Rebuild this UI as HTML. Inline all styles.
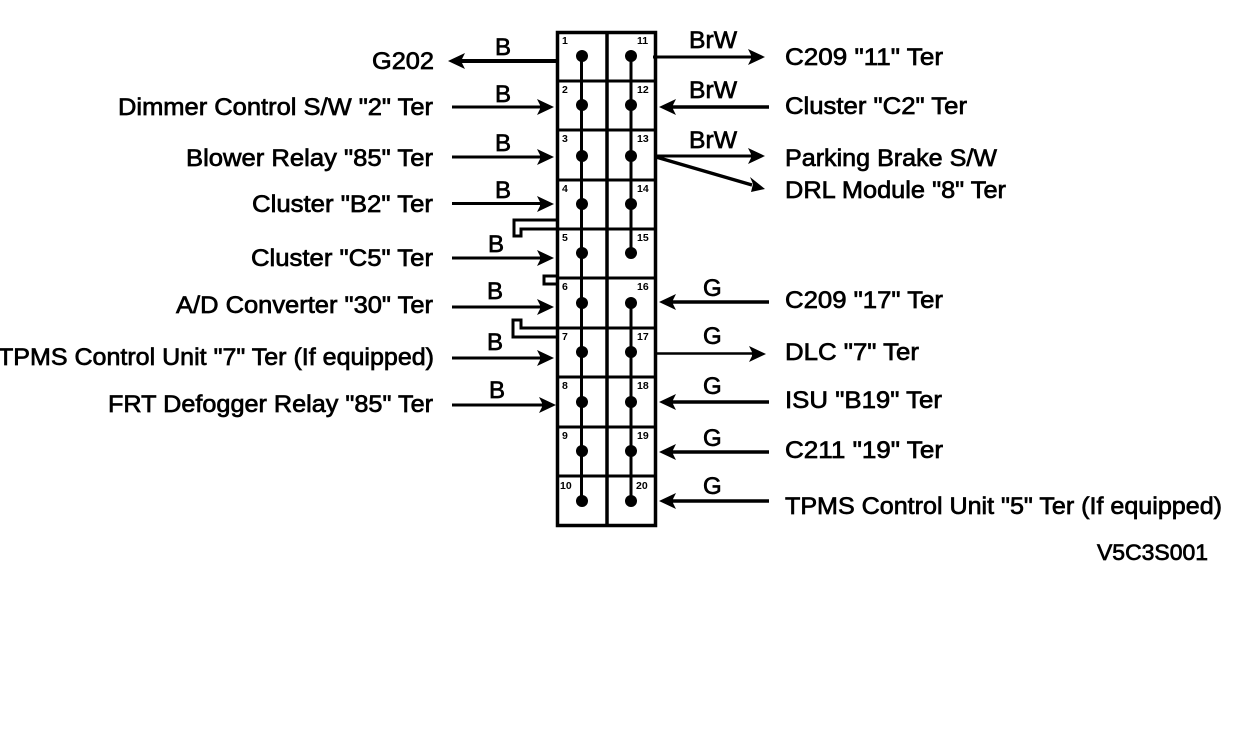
<!DOCTYPE html>
<html>
<head>
<meta charset="utf-8">
<style>
html,body{margin:0;padding:0;background:#fff;width:1248px;height:746px;overflow:hidden}
svg{display:block}
text{font-family:"Liberation Sans",sans-serif;fill:#000;stroke:#000;stroke-width:.7px}
.l{font-size:24px}
.n{font-size:10.5px;font-weight:bold;stroke:none}
</style>
</head>
<body>
<svg width="1248" height="746" viewBox="0 0 1248 746" xmlns="http://www.w3.org/2000/svg">
<rect width="1248" height="746" fill="#fff"/>
<defs>
<polygon id="hr" points="0,0 -17,-8 -14,-2 -14,2 -17,8"/>
<polygon id="hl" points="0,0 17,-8 14,-2 14,2 17,8"/>
</defs>

<!-- Box -->
<g stroke="#000" fill="none">
<rect x="557.5" y="32.5" width="98" height="493" stroke-width="3.5"/>
<path d="M607 32V526" stroke-width="3.5"/>
<path d="M557 81H656M557 130H656M557 180H656M557 229H656M557 278H656M557 328H656M557 377H656M557 427H656M557 476H656" stroke-width="3"/>
<path d="M581.5 56V501M631 56V253M631 303V501" stroke-width="3"/>
<!-- jumpers -->
<path d="M557 220H514V236H521V229H557" stroke-width="3"/>
<path d="M557 276H544V284H557" stroke-width="3"/>
<path d="M557 328H521V320H513V337H557" stroke-width="3"/>
</g>

<!-- Dots -->
<g fill="#000">
<circle cx="582" cy="56" r="6"/><circle cx="582" cy="105" r="6"/><circle cx="582" cy="156" r="6"/><circle cx="582" cy="204" r="6"/><circle cx="582" cy="253" r="6"/><circle cx="582" cy="303" r="6"/><circle cx="582" cy="352" r="6"/><circle cx="582" cy="402" r="6"/><circle cx="582" cy="451" r="6"/><circle cx="582" cy="501" r="6"/>
<circle cx="631" cy="56" r="6"/><circle cx="631" cy="105" r="6"/><circle cx="631" cy="156" r="6"/><circle cx="631" cy="204" r="6"/><circle cx="631" cy="253" r="6"/><circle cx="631" cy="303" r="6"/><circle cx="631" cy="352" r="6"/><circle cx="631" cy="402" r="6"/><circle cx="631" cy="451" r="6"/><circle cx="631" cy="501" r="6"/>
</g>

<!-- Pin numbers -->
<g class="n">
<text class="n" x="562" y="44">1</text><text class="n" x="562" y="93">2</text><text class="n" x="562" y="142">3</text><text class="n" x="562" y="192">4</text><text class="n" x="562" y="241">5</text><text class="n" x="562" y="290">6</text><text class="n" x="562" y="340">7</text><text class="n" x="562" y="389">8</text><text class="n" x="562" y="439">9</text><text class="n" x="560" y="489">10</text>
<text class="n" x="637" y="44">11</text><text class="n" x="637" y="93">12</text><text class="n" x="637" y="142">13</text><text class="n" x="637" y="192">14</text><text class="n" x="637" y="241">15</text><text class="n" x="637" y="290">16</text><text class="n" x="637" y="340">17</text><text class="n" x="637" y="389">18</text><text class="n" x="637" y="439">19</text><text class="n" x="636" y="489">20</text>
</g>

<!-- Left connectors -->
<g stroke="#000" fill="none">
<path d="M460 61H556" stroke-width="4"/>
<path d="M452 107H544M452 157H544M452 203.500H544M452 258H544M452 307H544M452 358H544M452 405H546" stroke-width="3"/>
</g>
<use href="#hl" x="448" y="61"/>
<use href="#hr" x="554" y="107"/><use href="#hr" x="554" y="157"/><use href="#hr" x="554" y="204"/><use href="#hr" x="554" y="258"/><use href="#hr" x="554" y="307"/><use href="#hr" x="554" y="358"/><use href="#hr" x="556" y="405"/>

<!-- Right connectors -->
<g stroke="#000" fill="none">
<path d="M653 57H755M656 156H755" stroke-width="3"/>
<path d="M669 107H769M669 302H769M669 402H769M669 452H769M669 501H769" stroke-width="3.500"/>
<path d="M656 353.500H755" stroke-width="2.500"/>
<path d="M656 157L752 185" stroke-width="3.500"/>
</g>
<use href="#hr" x="765" y="57"/><use href="#hr" x="765" y="156"/><use href="#hr" x="766" y="354"/>
<polygon points="765,189 750,177 753,184 751,192"/>
<use href="#hl" x="659" y="107"/><use href="#hl" x="659" y="302"/><use href="#hl" x="659" y="402"/><use href="#hl" x="659" y="452"/><use href="#hl" x="659" y="501"/>

<!-- Left labels -->
<g class="l" text-anchor="end">
<text class="l" x="434" y="69" textLength="62" lengthAdjust="spacingAndGlyphs">G202</text>
<text class="l" x="433" y="115" textLength="315" lengthAdjust="spacingAndGlyphs">Dimmer Control S/W "2" Ter</text>
<text class="l" x="433" y="166" textLength="247" lengthAdjust="spacingAndGlyphs">Blower Relay "85" Ter</text>
<text class="l" x="433" y="212" textLength="181" lengthAdjust="spacingAndGlyphs">Cluster "B2" Ter</text>
<text class="l" x="433" y="266" textLength="182" lengthAdjust="spacingAndGlyphs">Cluster "C5" Ter</text>
<text class="l" x="433" y="313" textLength="257" lengthAdjust="spacingAndGlyphs">A/D Converter "30" Ter</text>
<text class="l" x="434" y="365" textLength="436" lengthAdjust="spacingAndGlyphs">TPMS Control Unit "7" Ter (If equipped)</text>
<text class="l" x="433" y="412" textLength="325" lengthAdjust="spacingAndGlyphs">FRT Defogger Relay "85" Ter</text>
</g>

<!-- Wire colors -->
<g class="l">
<text class="l" x="495" y="55">B</text>
<text class="l" x="495" y="102">B</text>
<text class="l" x="495" y="151">B</text>
<text class="l" x="495" y="198">B</text>
<text class="l" x="488" y="252">B</text>
<text class="l" x="487" y="299">B</text>
<text class="l" x="487" y="350">B</text>
<text class="l" x="489" y="398">B</text>
<text class="l" x="689" y="48" textLength="48" lengthAdjust="spacingAndGlyphs">BrW</text>
<text class="l" x="689" y="98" textLength="48" lengthAdjust="spacingAndGlyphs">BrW</text>
<text class="l" x="689" y="148" textLength="48" lengthAdjust="spacingAndGlyphs">BrW</text>
<text class="l" x="703" y="296">G</text>
<text class="l" x="703" y="344">G</text>
<text class="l" x="703" y="394">G</text>
<text class="l" x="703" y="446">G</text>
<text class="l" x="703" y="494">G</text>
</g>

<!-- Right labels -->
<g class="l">
<text class="l" x="785" y="65" textLength="158" lengthAdjust="spacingAndGlyphs">C209 "11" Ter</text>
<text class="l" x="785" y="114" textLength="182" lengthAdjust="spacingAndGlyphs">Cluster "C2" Ter</text>
<text class="l" x="785" y="166" textLength="212" lengthAdjust="spacingAndGlyphs">Parking Brake S/W</text>
<text class="l" x="785" y="198" textLength="221" lengthAdjust="spacingAndGlyphs">DRL Module "8" Ter</text>
<text class="l" x="785" y="308" textLength="158" lengthAdjust="spacingAndGlyphs">C209 "17" Ter</text>
<text class="l" x="785" y="360" textLength="134" lengthAdjust="spacingAndGlyphs">DLC "7" Ter</text>
<text class="l" x="785" y="408" textLength="157" lengthAdjust="spacingAndGlyphs">ISU "B19" Ter</text>
<text class="l" x="785" y="458" textLength="158" lengthAdjust="spacingAndGlyphs">C211 "19" Ter</text>
<text class="l" x="785" y="514" textLength="437" lengthAdjust="spacingAndGlyphs">TPMS Control Unit "5" Ter (If equipped)</text>
<text class="l" x="1097" y="560" textLength="111" lengthAdjust="spacingAndGlyphs" style="font-size:22px">V5C3S001</text>
</g>
</svg>
</body>
</html>
